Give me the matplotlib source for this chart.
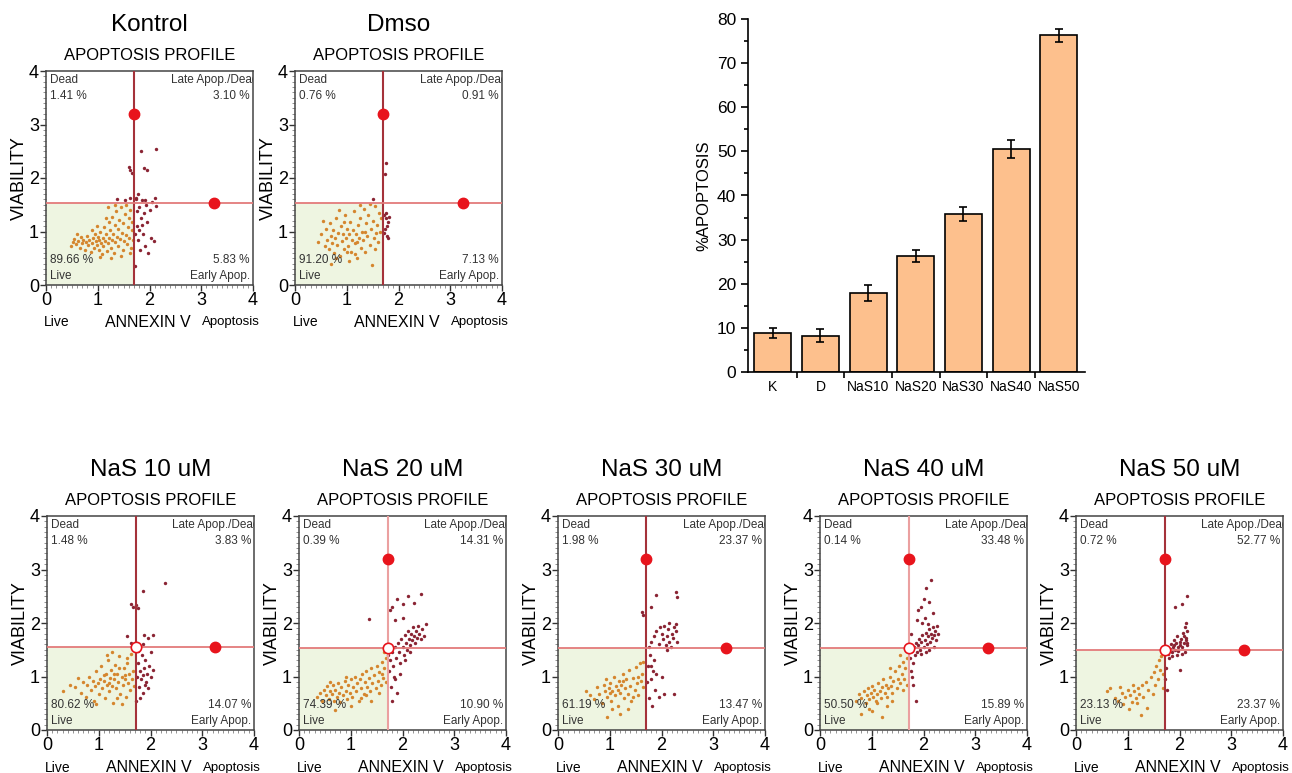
import numpy as np
import matplotlib
matplotlib.use("Agg")
import matplotlib.pyplot as plt
from matplotlib.patches import Rectangle
from matplotlib.ticker import MultipleLocator, AutoMinorLocator

plt.rcParams['font.family'] = ['Liberation Sans', 'DejaVu Sans']

# bar chart data
groups = ['K', 'D', 'NaS10', 'NaS20', 'NaS30', 'NaS40', 'NaS50']
apoptosis = [8.8, 8.2, 17.9, 26.3, 35.8, 50.5, 76.3]
apoptosis_err = [1.2, 1.5, 1.8, 1.4, 1.5, 2.0, 1.4]

# flow panels
titles = ['Kontrol', 'Dmso', 'NaS 10 uM', 'NaS 20 uM', 'NaS 30 uM', 'NaS 40 uM', 'NaS 50 uM']
dead_pct = [1.41, 0.76, 1.48, 0.39, 1.98, 0.14, 0.72]
late_pct = [3.10, 0.91, 3.83, 14.31, 23.37, 33.48, 52.77]
live_pct = [89.66, 91.20, 80.62, 74.39, 61.19, 50.50, 23.13]
early_pct = [5.83, 7.13, 14.07, 10.90, 13.47, 15.89, 23.37]
gate_x = [1.70, 1.70, 1.72, 1.72, 1.70, 1.72, 1.72]
gate_y = [1.53, 1.53, 1.56, 1.53, 1.53, 1.53, 1.50]
handle_top = [3.2, 3.2, None, 3.2, 3.2, 3.2, 3.2]
handle_right = [3.25, 3.25, 3.25, None, 3.25, 3.25, 3.25]
center_handle = [False, False, True, True, False, True, True]
vline_dark = [True, True, True, False, True, False, True]

cells_kontrol = [
    (0.48, 0.72), (0.52, 0.80), (0.55, 0.86), (0.58, 0.76), (0.62, 0.83), (0.65, 0.70), (0.68, 0.90),
    (0.70, 0.78), (0.72, 0.85), (0.75, 0.66), (0.77, 0.80), (0.80, 0.92), (0.82, 0.74), (0.84, 0.84),
    (0.86, 0.62), (0.88, 0.78), (0.90, 0.88), (0.92, 0.70), (0.94, 0.96), (0.96, 0.82), (0.98, 0.75),
    (1.00, 0.90), (1.02, 0.66), (1.03, 0.84), (1.05, 1.00), (1.06, 0.78), (1.08, 0.58), (1.10, 0.88),
    (1.11, 0.72), (1.13, 1.08), (1.14, 0.82), (1.16, 0.95), (1.18, 0.64), (1.19, 0.78), (1.21, 1.18),
    (1.22, 0.88), (1.24, 1.02), (1.25, 0.70), (1.27, 0.84), (1.28, 1.28), (1.30, 0.95), (1.31, 0.60),
    (1.33, 1.12), (1.34, 0.80), (1.36, 1.38), (1.37, 0.90), (1.39, 1.05), (1.40, 0.72), (1.42, 1.22),
    (1.43, 0.86), (1.45, 1.45), (1.46, 0.98), (1.48, 0.66), (1.49, 1.15), (1.51, 0.82), (1.52, 1.32),
    (1.54, 0.94), (1.55, 1.50), (1.57, 0.76), (1.58, 1.08), (1.60, 1.25), (1.61, 0.88), (1.63, 1.40),
    (1.64, 0.70), (1.66, 1.02), (1.67, 1.18), (1.68, 0.84), (1.20, 1.45), (1.33, 1.50), (1.15, 1.25),
    (0.98, 1.10), (1.05, 0.52), (1.25, 0.50), (0.60, 0.95), (0.88, 1.02), (1.45, 0.55), (1.62, 0.60),
    (1.38, 1.60), (1.52, 1.58), (1.62, 1.62),
    (1.72, 0.35), (1.74, 1.62), (1.76, 1.10), (1.78, 0.85), (1.80, 1.45), (1.82, 0.65), (1.84, 1.25),
    (1.86, 1.58), (1.88, 0.95), (1.90, 1.35), (1.92, 0.72), (1.94, 1.50), (1.96, 1.18), (1.98, 0.60),
    (2.00, 1.40), (2.02, 0.88), (2.05, 1.55), (2.08, 0.82), (2.10, 1.62), (2.12, 1.48), (1.75, 1.38),
    (1.79, 1.02), (1.85, 1.12), (1.92, 1.58), (1.72, 0.95), (1.60, 2.20), (1.62, 2.15), (1.66, 2.10),
    (1.83, 2.50), (1.90, 2.18), (1.96, 2.15), (2.12, 2.55), (1.73, 1.60), (1.78, 1.70),
]
cells_dmso = [
    (0.45, 0.80), (0.50, 0.95), (0.55, 1.20), (0.58, 0.72), (0.60, 1.05), (0.62, 0.85), (0.65, 0.68),
    (0.67, 1.15), (0.70, 0.92), (0.72, 0.78), (0.74, 1.02), (0.76, 0.60), (0.78, 0.88), (0.80, 1.25),
    (0.82, 0.75), (0.84, 0.98), (0.86, 0.55), (0.88, 1.10), (0.90, 0.82), (0.92, 0.95), (0.94, 0.68),
    (0.96, 1.30), (0.98, 0.88), (1.00, 1.05), (1.02, 0.72), (1.04, 0.95), (1.06, 1.18), (1.08, 0.62),
    (1.10, 0.85), (1.12, 1.02), (1.14, 1.38), (1.16, 0.78), (1.18, 0.95), (1.20, 0.50), (1.22, 1.12),
    (1.24, 0.88), (1.26, 1.25), (1.28, 0.70), (1.30, 1.00), (1.32, 0.85), (1.34, 1.42), (1.36, 0.62),
    (1.38, 1.15), (1.40, 0.92), (1.42, 1.30), (1.44, 0.75), (1.46, 1.05), (1.48, 0.38), (1.50, 1.20),
    (1.52, 0.88), (1.54, 1.48), (1.56, 0.98), (1.58, 1.12), (1.60, 0.80), (1.62, 1.35), (1.64, 1.00),
    (1.66, 1.25), (1.05, 0.45), (0.85, 1.40), (1.25, 1.50), (1.45, 1.52), (0.70, 0.40), (1.15, 0.58),
    (0.95, 1.18), (1.35, 1.00), (1.55, 0.68), (1.20, 0.80), (1.00, 0.62), (0.80, 0.50), (1.50, 1.60),
    (1.72, 1.30), (1.74, 1.05), (1.76, 1.25), (1.78, 0.92), (1.80, 1.18), (1.72, 0.98), (1.75, 1.35),
    (1.78, 1.10), (1.80, 0.88), (1.82, 1.28), (1.74, 2.08), (1.76, 2.28),
]
cells_nas10 = [
    (0.30, 0.72), (0.45, 0.85), (0.55, 0.80), (0.60, 0.98), (0.65, 0.70), (0.70, 0.90), (0.75, 0.62),
    (0.78, 0.85), (0.82, 1.00), (0.85, 0.75), (0.88, 0.92), (0.90, 0.55), (0.92, 0.82), (0.95, 1.10),
    (0.98, 0.88), (1.00, 0.68), (1.02, 0.95), (1.05, 1.20), (1.07, 0.78), (1.10, 0.92), (1.12, 0.60),
    (1.14, 1.05), (1.16, 0.85), (1.18, 1.30), (1.20, 0.72), (1.22, 0.98), (1.24, 1.12), (1.26, 0.82),
    (1.28, 0.50), (1.30, 0.95), (1.32, 1.22), (1.34, 0.78), (1.36, 1.05), (1.38, 0.90), (1.40, 1.38),
    (1.42, 0.68), (1.44, 1.00), (1.46, 0.85), (1.48, 1.15), (1.50, 0.95), (1.52, 0.62), (1.54, 1.25),
    (1.56, 0.88), (1.58, 1.05), (1.60, 0.75), (1.62, 1.42), (1.64, 0.95), (1.66, 1.10), (1.68, 0.82),
    (1.15, 1.40), (1.35, 0.60), (1.25, 1.45), (1.45, 0.48), (0.95, 0.48), (1.55, 1.35), (1.40, 1.15),
    (1.30, 1.05), (1.20, 0.88), (1.10, 1.02), (1.50, 1.02),
    (1.72, 0.55), (1.74, 1.00), (1.76, 1.25), (1.78, 0.80), (1.80, 1.10), (1.82, 0.95), (1.84, 1.40),
    (1.86, 0.70), (1.88, 1.15), (1.90, 1.30), (1.92, 0.90), (1.94, 1.05), (1.96, 0.78), (1.98, 1.20),
    (2.00, 1.00), (2.04, 1.12), (1.75, 1.48), (1.85, 1.02), (1.80, 0.60), (1.90, 0.85), (1.62, 2.35),
    (1.66, 2.30), (1.72, 2.33), (1.75, 2.28), (1.85, 2.60), (2.28, 2.75), (1.88, 1.78), (1.95, 1.72),
    (2.05, 1.78), (1.55, 1.75), (1.63, 1.62), (1.85, 1.60), (2.00, 1.45),
]
cells_nas20 = [
    (0.35, 0.62), (0.40, 0.70), (0.45, 0.55), (0.48, 0.75), (0.52, 0.65), (0.55, 0.82), (0.58, 0.58),
    (0.60, 0.72), (0.63, 0.68), (0.66, 0.85), (0.68, 0.55), (0.70, 0.75), (0.73, 0.62), (0.75, 0.88),
    (0.78, 0.70), (0.80, 0.52), (0.82, 0.80), (0.85, 0.65), (0.88, 0.92), (0.90, 0.72), (0.92, 0.58),
    (0.95, 0.85), (0.98, 0.70), (1.00, 0.95), (1.02, 0.62), (1.05, 0.80), (1.08, 1.00), (1.10, 0.72),
    (1.12, 0.88), (1.15, 0.55), (1.18, 0.95), (1.20, 0.78), (1.22, 1.05), (1.25, 0.68), (1.28, 0.90),
    (1.30, 1.10), (1.32, 0.80), (1.35, 0.98), (1.38, 0.72), (1.40, 1.15), (1.42, 0.88), (1.45, 1.02),
    (1.48, 0.78), (1.50, 1.20), (1.52, 0.92), (1.55, 1.08), (1.58, 0.85), (1.60, 1.28), (1.62, 0.98),
    (1.65, 1.15), (1.68, 1.35), (1.68, 0.90), (1.00, 0.45), (0.70, 0.38), (1.40, 0.55), (1.20, 0.60),
    (0.90, 1.00), (1.55, 0.70), (1.60, 1.05), (1.65, 1.45), (1.30, 0.65), (0.60, 0.90),
    (1.74, 1.10), (1.76, 1.30), (1.78, 0.80), (1.80, 1.45), (1.82, 1.20), (1.84, 1.00), (1.86, 1.55),
    (1.88, 1.35), (1.90, 0.70), (1.92, 1.62), (1.94, 1.45), (1.96, 1.25), (1.98, 1.70), (2.00, 1.55),
    (2.02, 1.40), (2.04, 1.78), (2.06, 1.62), (2.08, 1.50), (2.10, 1.85), (2.12, 1.70), (2.14, 1.58),
    (2.16, 1.80), (2.18, 1.68), (2.20, 1.92), (2.22, 1.75), (2.24, 1.62), (2.26, 1.85), (2.28, 1.72),
    (2.30, 1.95), (2.32, 1.80), (2.35, 1.70), (2.38, 1.88), (2.42, 1.75), (2.45, 1.98), (1.80, 0.55),
    (1.85, 0.95), (1.95, 1.05), (2.05, 1.30), (2.15, 1.45), (1.75, 2.25), (1.80, 2.30), (1.90, 2.45),
    (2.00, 2.35), (2.10, 2.50), (2.22, 2.38), (2.35, 2.55), (1.85, 2.05), (2.00, 2.10), (1.35, 2.08),
    (1.72, 1.40),
]
cells_nas30 = [
    (0.55, 0.72), (0.62, 0.65), (0.70, 0.58), (0.75, 0.80), (0.80, 0.68), (0.85, 0.50), (0.88, 0.85),
    (0.90, 0.72), (0.92, 0.95), (0.95, 0.62), (0.98, 0.78), (1.00, 0.88), (1.02, 0.55), (1.05, 0.72),
    (1.08, 1.00), (1.10, 0.65), (1.12, 0.82), (1.15, 0.45), (1.18, 0.92), (1.20, 0.70), (1.22, 0.85),
    (1.25, 1.05), (1.28, 0.60), (1.30, 0.78), (1.32, 0.95), (1.35, 0.68), (1.38, 1.12), (1.40, 0.82),
    (1.42, 0.55), (1.45, 0.98), (1.48, 0.75), (1.50, 1.18), (1.52, 0.88), (1.55, 0.65), (1.58, 1.25),
    (1.60, 0.92), (1.62, 1.05), (1.65, 0.80), (0.95, 0.25), (1.20, 0.30), (1.35, 0.40), (1.05, 0.40),
    (1.65, 1.28), (1.25, 0.92), (1.45, 0.62), (1.00, 0.70), (1.15, 0.75), (1.55, 1.00),
    (1.72, 0.90), (1.74, 1.20), (1.76, 0.60), (1.78, 1.40), (1.80, 0.95), (1.82, 0.45), (1.84, 1.10),
    (1.86, 1.30), (1.88, 0.75), (1.90, 1.05), (1.95, 0.62), (2.00, 1.00), (2.05, 0.68), (2.25, 0.68),
    (1.75, 1.55), (1.80, 1.65), (1.85, 1.75), (1.90, 1.85), (1.95, 1.60), (2.00, 1.80), (2.02, 1.70),
    (2.05, 1.95), (2.08, 1.58), (2.10, 1.75), (2.12, 1.88), (2.15, 1.65), (2.18, 1.55), (2.20, 1.80),
    (2.22, 1.72), (2.25, 1.92), (2.28, 1.85), (2.30, 1.65), (2.28, 1.98), (2.15, 2.00), (1.98, 1.92),
    (1.62, 2.20), (1.65, 2.15), (1.80, 2.30), (1.90, 2.52), (2.28, 2.58), (2.30, 2.48), (2.10, 1.50),
    (1.80, 1.20),
]
cells_nas40 = [
    (0.70, 0.55), (0.75, 0.68), (0.80, 0.60), (0.85, 0.72), (0.88, 0.50), (0.90, 0.65), (0.92, 0.78),
    (0.95, 0.58), (0.98, 0.70), (1.00, 0.82), (1.02, 0.62), (1.05, 0.75), (1.08, 0.55), (1.10, 0.68),
    (1.12, 0.88), (1.15, 0.72), (1.18, 0.60), (1.20, 0.80), (1.22, 0.95), (1.25, 0.70), (1.28, 0.85),
    (1.30, 0.62), (1.32, 0.78), (1.35, 1.00), (1.38, 0.82), (1.40, 0.70), (1.42, 0.92), (1.45, 1.10),
    (1.48, 0.78), (1.50, 0.95), (1.52, 1.20), (1.55, 0.88), (1.58, 1.05), (1.60, 1.28), (1.62, 0.95),
    (1.65, 1.15), (1.68, 1.35), (1.68, 0.85), (1.00, 0.35), (1.20, 0.25), (1.30, 0.45), (0.95, 0.40),
    (0.80, 0.30), (1.40, 0.55), (1.55, 1.40), (1.10, 0.50), (1.60, 0.75), (1.35, 1.15),
    (1.74, 1.35), (1.76, 1.10), (1.78, 1.48), (1.80, 1.25), (1.82, 1.55), (1.84, 1.40), (1.86, 1.62),
    (1.88, 1.45), (1.90, 1.58), (1.92, 1.70), (1.94, 1.50), (1.96, 1.65), (1.98, 1.78), (2.00, 1.55),
    (2.02, 1.68), (2.04, 1.82), (2.06, 1.60), (2.08, 1.75), (2.10, 1.88), (2.12, 1.65), (2.14, 1.80),
    (2.16, 1.72), (2.18, 1.92), (2.20, 1.78), (2.22, 1.85), (2.24, 1.68), (2.26, 1.95), (2.28, 1.80),
    (2.10, 1.50), (2.20, 1.55), (1.95, 1.42), (2.05, 1.45), (1.85, 0.55), (1.80, 0.85), (1.78, 1.00),
    (1.90, 2.25), (1.95, 2.30), (2.00, 2.45), (2.05, 2.65), (2.15, 2.80), (2.10, 2.40), (2.02, 2.10),
    (1.88, 2.05), (2.18, 2.18), (1.98, 2.00), (2.08, 1.98), (1.76, 1.80),
]
cells_nas50 = [
    (0.60, 0.72), (0.65, 0.78), (0.75, 0.60), (0.82, 0.55), (0.88, 0.70), (0.90, 0.48), (0.95, 0.62),
    (1.00, 0.75), (1.02, 0.40), (1.05, 0.65), (1.08, 0.52), (1.12, 0.72), (1.15, 0.60), (1.18, 0.50),
    (1.20, 0.78), (1.22, 0.68), (1.25, 0.28), (1.28, 0.85), (1.30, 0.62), (1.35, 0.90), (1.38, 0.42),
    (1.40, 0.75), (1.45, 1.00), (1.48, 0.68), (1.50, 1.08), (1.52, 0.85), (1.55, 1.20), (1.58, 0.95),
    (1.60, 1.30), (1.62, 1.12), (1.65, 1.38), (1.68, 1.05), (1.68, 0.78), (1.10, 0.85), (0.85, 0.80),
    (1.74, 1.15), (1.76, 0.75), (1.72, 0.95), (1.78, 1.42), (1.80, 1.35), (1.82, 1.52), (1.84, 1.60),
    (1.86, 1.45), (1.88, 1.55), (1.90, 1.68), (1.92, 1.50), (1.94, 1.62), (1.96, 1.75), (1.98, 1.48),
    (2.00, 1.58), (2.02, 1.70), (2.04, 1.55), (2.06, 1.82), (2.08, 1.62), (2.10, 1.92), (2.12, 1.72),
    (2.14, 1.58), (2.15, 1.85), (2.10, 1.45), (2.05, 1.42), (1.95, 1.40), (2.13, 2.00), (2.00, 1.65),
    (1.90, 1.58), (2.08, 1.75), (1.92, 2.30), (2.05, 2.35), (2.15, 2.50), (2.00, 1.12), (2.12, 1.68),
    (1.98, 1.55), (1.85, 1.38), (2.15, 1.62),
]
cells = [cells_kontrol, cells_dmso, cells_nas10, cells_nas20, cells_nas30, cells_nas40, cells_nas50]

W, H = 1292, 773
fig = plt.figure(figsize=(W / 100, H / 100), dpi=100)


def px_axes(left, top, width, height):
    return fig.add_axes([left / W, (H - top - height) / H, width / W, height / H])


# panel boxes in pixels: left, top
panel_pos = [(46, 71), (295, 71), (47, 516), (299, 516), (558, 516), (820, 516), (1076, 516)]


def flow_panel(ax, i):
    vx, hy = gate_x[i], gate_y[i]
    ax.set_xlim(0, 4)
    ax.set_ylim(0, 4)
    ax.add_patch(Rectangle((0, 0), vx, hy, fc='#eef5e1', ec='none', zorder=0))
    pts = np.array(cells[i])
    live = (pts[:, 0] < vx) & (pts[:, 1] < hy)
    ax.scatter(pts[live, 0], pts[live, 1], s=6, c='#d5862e', lw=0, zorder=2)
    ax.scatter(pts[~live, 0], pts[~live, 1], s=6, c='#8a2433', lw=0, zorder=2)
    ax.axvline(vx, color='#a5323a' if vline_dark[i] else '#eba0a0', lw=1.5, zorder=3)
    ax.axhline(hy, color='#e37b7b', lw=1.3, zorder=3)
    if handle_top[i] is not None:
        ax.plot(vx, handle_top[i], 'o', ms=7.5, color='#e8141c', mec='#e8141c', zorder=5)
    if handle_right[i] is not None:
        ax.plot(handle_right[i], hy, 'o', ms=7.5, color='#e8141c', mec='#e8141c', zorder=5)
    if center_handle[i]:
        ax.plot(vx, hy, 'o', ms=7.5, mfc='white', mec='#e8141c', mew=1.2, zorder=5)

    kw = dict(transform=ax.transAxes, fontsize=8.5, color='#333333', linespacing=1.45, zorder=6)
    ax.text(0.02, 0.985, 'Dead\n%.2f %%' % dead_pct[i], ha='left', va='top', **kw)
    ax.text(1.025, 0.985, 'Late Apop./Dead', ha='right', va='top', clip_on=True, **kw)
    ax.text(0.985, 0.91, '%.2f %%' % late_pct[i], ha='right', va='top', **kw)
    ax.text(0.02, 0.015, '%.2f %%\nLive' % live_pct[i], ha='left', va='bottom', **kw)
    ax.text(0.985, 0.015, '%.2f %%\nEarly Apop.' % early_pct[i], ha='right', va='bottom', **kw)

    ax.set_xticks(range(5))
    ax.set_yticks(range(5))
    ax.xaxis.set_minor_locator(AutoMinorLocator(10))
    ax.yaxis.set_minor_locator(AutoMinorLocator(10))
    ax.tick_params(which='major', length=4, width=1, labelsize=13, pad=1, color='#333333')
    ax.tick_params(which='minor', length=2, width=0.5, color='#666666')
    for sp in ax.spines.values():
        sp.set_color('#444444')
        sp.set_linewidth(1.1)

    ax.annotate(titles[i], (0.5, 1), xycoords='axes fraction', xytext=(0, 33),
                textcoords='offset points', ha='center', va='center', fontsize=17.5)
    ax.annotate('APOPTOSIS PROFILE', (0.5, 1), xycoords='axes fraction', xytext=(0, 11.5),
                textcoords='offset points', ha='center', va='center', fontsize=12)
    ax.annotate('VIABILITY', (0, 0.5), xycoords='axes fraction', xytext=(-19, 0),
                textcoords='offset points', ha='center', va='center', rotation=90, fontsize=13)
    ax.annotate('ANNEXIN V', (0.49, 0), xycoords='axes fraction', xytext=(0, -27),
                textcoords='offset points', ha='center', va='center', fontsize=11.5)
    ax.annotate('Live', (0.05, 0), xycoords='axes fraction', xytext=(0, -27),
                textcoords='offset points', ha='center', va='center', fontsize=10)
    ax.annotate('Apoptosis', (0.895, 0), xycoords='axes fraction', xytext=(0, -27),
                textcoords='offset points', ha='center', va='center', fontsize=9.5)


for i, (l, t) in enumerate(panel_pos):
    ax = px_axes(l, t, 207, 214)
    flow_panel(ax, i)

# summary bar chart
bax = px_axes(748, 19, 337, 353)
pos = np.arange(len(groups))
bax.bar(pos, apoptosis, width=0.78, color='#fdc08d', edgecolor='black', linewidth=1.2,
        yerr=apoptosis_err, capsize=3, error_kw=dict(elinewidth=1.2, capthick=1.2, ecolor='black'))
bax.set_xlim(-0.52, 6.55)
bax.set_ylim(0, 80)
bax.set_xticks(pos)
bax.set_xticklabels(groups, fontsize=10)
bax.set_xticks(pos[:-1] + 0.5, minor=True)
bax.yaxis.set_major_locator(MultipleLocator(10))
bax.yaxis.set_minor_locator(MultipleLocator(5))
bax.tick_params(axis='y', which='major', length=5, width=1.2, labelsize=12.5)
bax.tick_params(axis='y', which='minor', length=3, width=1.2)
bax.tick_params(axis='x', which='major', length=0, pad=6)
bax.tick_params(axis='x', which='minor', length=4, width=1.2)
bax.spines['top'].set_visible(False)
bax.spines['right'].set_visible(False)
bax.spines['left'].set_linewidth(1.2)
bax.spines['bottom'].set_linewidth(1.2)
bax.set_ylabel('%APOPTOSIS', fontsize=12, labelpad=4)

fig.savefig('out.png', dpi=100)
